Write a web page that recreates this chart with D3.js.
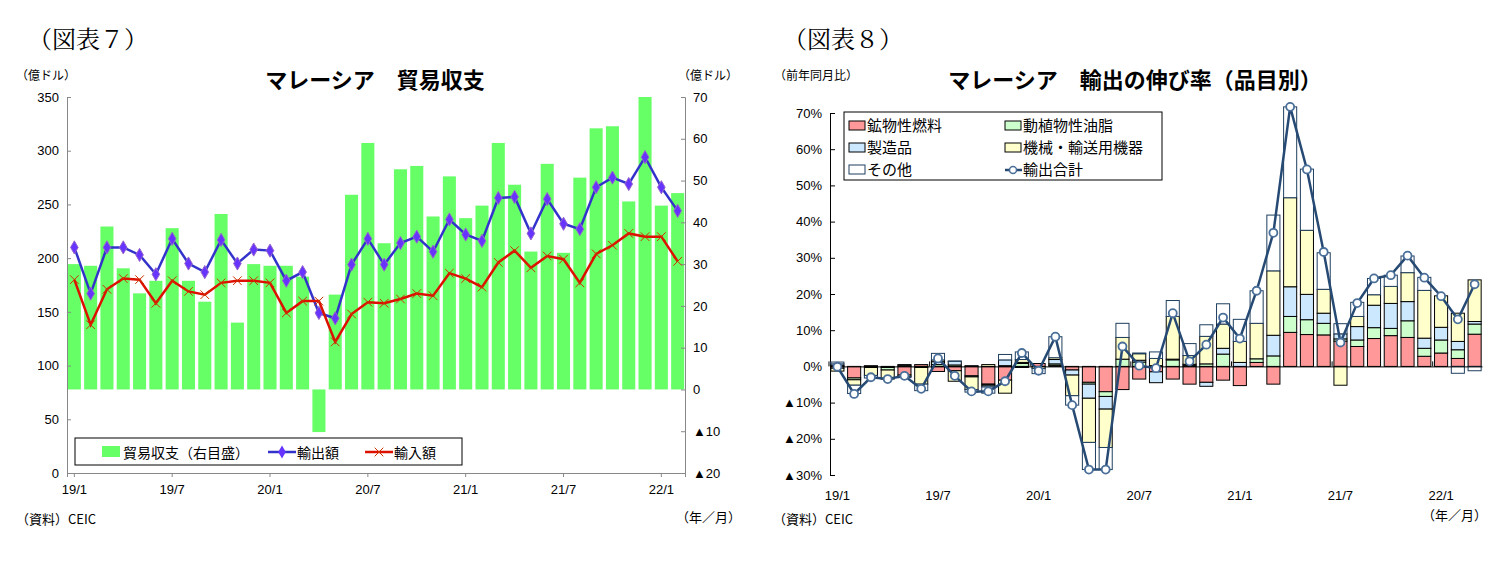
<!DOCTYPE html>
<html><head><meta charset="utf-8">
<script src="https://cdn.jsdelivr.net/npm/d3@7"></script>
<style>body{margin:0;background:#fff}text{font-family:"Noto Sans CJK JP",sans-serif}</style>
</head><body><svg id="c" width="1511" height="569"></svg>
<script>
// ---- Chart 7 data ----
const months7 = d3.range(38);
const xLabels7 = ["19/1","19/7","20/1","20/7","21/1","21/7","22/1"];
const balance = [30,29.6,39,29,23,26,38.6,26,21,42,16,30,29.6,29.6,27,-10.2,22.7,46.6,59,35,52.7,53.5,41.4,51,41,44,59,49,33,54,32.7,50.7,62.5,63,45,70,44,47];
const exportsV = [210,167,210,210,203,185,218,195,187,217,195,208,207,179,187,149,144,194,218,194,214,220,206,236,222,216,256,257,223,255,232,227,266,275,269,294,266,244];
const importsV = [180,138,171,181,180,158,179,169,166,177,179,179,177,149,160,160,122,148,159,158,162,167,165,186,181,173,196,207,191,202,199,177,204,212,223,220,220,197];
const leftTicks = [0,50,100,150,200,250,300,350];
const rightTicks = [70,60,50,40,30,20,10,0,-10,-20];
// ---- Chart 8 data ----
const months8 = d3.range(39);
const xLabels8 = ["19/1","19/7","20/1","20/7","21/1","21/7","22/1"];
const fuel  = [-0.5,-3.2,-0.3,-0.3,-2.4,0.5,-1.4,-1.2,-2.6,-4.9,-3.8,-0.3,0.8,0.3,-1,-4.4,-7,-6.4,-3.5,-1.5,-3.5,-4.9,-4.4,-3.8,-5.3,1.1,-4.9,9.4,8.8,8.7,7.0,5.5,7.7,8.5,8.0,2.8,3.7,2.2,8.9];
const oils  = [0.2,-0.5,0.2,-0.7,0.3,0,0.5,0.4,-0.3,-0.3,0.2,0.8,0,0.4,0,-0.5,-1.3,2,1.2,0.2,1.8,0.3,0.7,3.4,0,1.0,2.9,4.4,4.1,3.2,0.6,1.8,3.0,2.0,4.6,2.2,3.6,2.4,2.8];
const manuf = [0.5,0,0,0,0.2,-0.3,0.8,1.0,0.2,-0.5,1.6,0.3,0,1.2,-1.4,-3.9,-3.5,0,0.5,-3,0.2,0.3,-1.1,1.6,1.1,0,5.7,8.2,7.0,2.8,1.4,3.7,6.2,6.9,5.3,2.8,3.5,2.3,0.7];
const mach  = [-0.8,-1.5,-2.2,-2.5,-0.4,-4.6,0.5,-2.9,-3.5,0.5,-3.6,0.8,-0.6,0.5,-5.7,-12.2,-10.6,6,1.8,2,11.8,2.4,7.6,6.7,5.8,9.8,17.8,24.6,17.7,6.6,-5.2,2.8,2.9,4.7,8.0,13.2,8.7,7.8,11.5];
const other = [0.5,-2.3,-0.7,0,-0.3,-1.8,1.8,0.1,-0.7,-1.7,1.5,2.1,-1.4,5.8,-2.6,-7.5,-6.1,3.9,0.2,1.8,4.4,3.3,3.2,5.6,6.1,9.0,15.4,25.1,16.9,10.1,2.8,3.9,4.5,3.1,4.6,3.6,0,-1.9,-1.2];
const total = [-0.1,-7.6,-3,-3.5,-2.6,-6.2,2.2,-2.6,-6.9,-6.9,-4.1,3.7,-1.2,8.2,-10.7,-28.5,-28.5,5.5,0.2,-0.5,14.7,1.4,6,13.5,7.7,20.9,36.9,71.7,54.4,31.6,6.6,17.5,24.3,25.2,30.6,24.5,19.4,13,22.7];
const pctTicks = [70,60,50,40,30,20,10,0,-10,-20,-30];
const seriesNames = ["鉱物性燃料","動植物性油脂","製造品","機械・輸送用機器","その他"];
const seriesColors = ["#ff9999","#ccffcc","#cce8ff","#ffffcc","#ffffff"];

const svg = d3.select("#c");
const neg = v => v < 0 ? "▲" + Math.abs(v) : "" + v;

// ===== Chart 7 =====
{
  const x = d3.scaleBand().domain(months7).range([67,685]).paddingInner(0.2).paddingOuter(0.05);
  const yL = d3.scaleLinear().domain([0,350]).range([473,97]);
  const yR = d3.scaleLinear().domain([-20,70]).range([473,97]);
  svg.append("text").attr("x",28).attr("y",48).attr("font-size",24).style("font-family","'Noto Serif CJK JP',serif").text("（図表７）");
  svg.append("text").attr("x",375).attr("y",88).attr("text-anchor","middle").attr("font-size",22).attr("font-weight",600).text("マレーシア　貿易収支");
  svg.append("text").attr("x",16).attr("y",80).attr("font-size",12).text("（億ドル）");
  svg.append("text").attr("x",678).attr("y",80).attr("font-size",12).text("（億ドル）");
  svg.append("g").selectAll("rect").data(balance).join("rect")
    .attr("x",(d,i)=>x(i)).attr("width",x.bandwidth())
    .attr("y",d=>yR(Math.max(0,d))).attr("height",d=>Math.abs(yR(d)-yR(0))).attr("fill","#66ff66");
  const gl = svg.append("g").attr("transform","translate(67,0)").call(d3.axisLeft(yL).tickValues(leftTicks).tickSize(-4).tickPadding(8));
  const gr = svg.append("g").attr("transform","translate(685,0)").call(d3.axisRight(yR).tickValues(rightTicks).tickFormat(neg).tickSize(-4).tickPadding(8));
  const gx = svg.append("g").attr("transform","translate(0,473)").call(d3.axisBottom(x).tickValues([0,6,12,18,24,30,36]).tickFormat((d,i)=>xLabels7[i]).tickSize(4).tickPadding(8));
  [gl,gr,gx].forEach(g=>{g.selectAll("text").attr("font-size",13).attr("fill","#000").style("font-family","'Liberation Sans',sans-serif");g.selectAll("path,line").attr("stroke","#888");});
  const lineF = () => d3.line().x((d,i)=>x(i)+x.bandwidth()/2).y(d=>yL(d));
  svg.append("path").datum(exportsV).attr("d",lineF()).attr("fill","none").attr("stroke","#3333cc").attr("stroke-width",2.5);
  svg.append("g").selectAll("path").data(exportsV).join("path")
    .attr("d",d3.symbol(d3.symbolDiamond,50)).attr("fill","#6633ff").attr("stroke","#9966cc")
    .attr("transform",(d,i)=>`translate(${x(i)+x.bandwidth()/2},${yL(d)})`);
  svg.append("path").datum(importsV).attr("d",lineF()).attr("fill","none").attr("stroke","#dd1100").attr("stroke-width",2.5);
  svg.append("g").selectAll("path").data(importsV).join("path")
    .attr("d",d3.symbol(d3.symbolX,50)).attr("fill","none").attr("stroke","#cc3300").attr("stroke-width",1)
    .attr("transform",(d,i)=>`translate(${x(i)+x.bandwidth()/2},${yL(d)})`);
  const lg = svg.append("g");
  lg.append("rect").attr("x",75).attr("y",438).attr("width",387).attr("height",27).attr("fill","#fff").attr("stroke","#000");
  lg.append("rect").attr("x",102).attr("y",446).attr("width",18).attr("height",11).attr("fill","#66ff66");
  lg.append("text").attr("x",123).attr("y",458).attr("font-size",14).text("貿易収支（右目盛）");
  lg.append("line").attr("x1",268).attr("x2",296).attr("y1",452).attr("y2",452).attr("stroke","#3333cc").attr("stroke-width",2.5);
  lg.append("path").attr("d",d3.symbol(d3.symbolDiamond,50)).attr("transform","translate(282,452)").attr("fill","#6633ff");
  lg.append("text").attr("x",297).attr("y",458).attr("font-size",14).text("輸出額");
  lg.append("line").attr("x1",365).attr("x2",393).attr("y1",452).attr("y2",452).attr("stroke","#dd1100").attr("stroke-width",2.5);
  lg.append("path").attr("d",d3.symbol(d3.symbolX,50)).attr("transform","translate(379,452)").attr("fill","none").attr("stroke","#cc3300");
  lg.append("text").attr("x",394).attr("y",458).attr("font-size",14).text("輸入額");
  svg.append("text").attr("x",16).attr("y",524).attr("font-size",13).text("（資料）CEIC");
  svg.append("text").attr("x",676).attr("y",522).attr("font-size",13).text("（年／月）");
}

// ===== Chart 8 =====
{
  const x = d3.scaleBand().domain(months8).range([830,1482]).paddingInner(0.22).paddingOuter(0.05);
  const y = d3.scaleLinear().domain([-30,70]).range([475,113]);
  svg.append("text").attr("x",783).attr("y",48).attr("font-size",24).style("font-family","'Noto Serif CJK JP',serif").text("（図表８）");
  svg.append("text").attr("x",1135).attr("y",88).attr("text-anchor","middle").attr("font-size",22).attr("font-weight",600).text("マレーシア　輸出の伸び率（品目別）");
  svg.append("text").attr("x",774).attr("y",80).attr("font-size",12).text("（前年同月比）");
  const gy = svg.append("g").attr("transform","translate(830,0)").call(d3.axisLeft(y).tickValues(pctTicks).tickFormat(v=>neg(v)+"%").tickSize(-5).tickPadding(8));
  gy.selectAll("text").attr("font-size",13).attr("fill","#000").style("font-family","'Liberation Sans',sans-serif");
  gy.selectAll("path,line").attr("stroke","#000");
  const rows = months8.map(i=>({fuel:fuel[i],oils:oils[i],manuf:manuf[i],mach:mach[i],other:other[i]}));
  const keys = ["fuel","oils","manuf","mach","other"];
  const st = d3.stack().keys(keys).offset(d3.stackOffsetDiverging)(rows);
  st.forEach((s,k)=>{
    svg.append("g").selectAll("rect").data(s).join("rect")
      .attr("x",(d,i)=>x(i)).attr("width",x.bandwidth())
      .attr("y",d=>y(Math.max(d[0],d[1]))).attr("height",d=>Math.abs(y(d[0])-y(d[1])))
      .attr("fill",seriesColors[k]).attr("stroke",k===4?"#1f3f5f":"#000").attr("stroke-width",1);
  });
  const gx = svg.append("g").attr("transform",`translate(0,${y(0)})`).call(d3.axisBottom(x).tickValues([]).tickSizeOuter(0));
  gx.select("path").attr("stroke","#000");
  svg.append("g").selectAll("line").data([0,6,12,18,24,30,36]).join("line")
    .attr("x1",d=>x(d)-x.step()*0.11).attr("x2",d=>x(d)-x.step()*0.11).attr("y1",y(0)-5).attr("y2",y(0)).attr("stroke","#000");
  svg.append("g").selectAll("text").data([0,6,12,18,24,30,36]).join("text")
    .attr("x",d=>x(d)+x.bandwidth()/2).attr("y",500).attr("text-anchor","middle").attr("font-size",13)
    .style("font-family","'Liberation Sans',sans-serif").text((d,i)=>xLabels8[i]);
  const cx = i=>x(i)+x.bandwidth()/2;
  svg.append("path").datum(total).attr("d",d3.line().x((d,i)=>cx(i)).y(d=>y(d))).attr("fill","none").attr("stroke","#264a73").attr("stroke-width",2.5);
  svg.append("g").selectAll("circle").data(total).join("circle")
    .attr("cx",(d,i)=>cx(i)).attr("cy",d=>y(d)).attr("r",4).attr("fill","#fff").attr("stroke","#4a6f99").attr("stroke-width",1.8);
  const lg = svg.append("g");
  lg.append("rect").attr("x",844).attr("y",112).attr("width",318).attr("height",68).attr("fill","#fff").attr("stroke","#000");
  const pos = [[849,131],[1005,131],[849,153],[1005,153],[849,175]];
  seriesNames.forEach((n,k)=>{
    lg.append("rect").attr("x",pos[k][0]).attr("y",pos[k][1]-10).attr("width",16).attr("height",9)
      .attr("fill",seriesColors[k]).attr("stroke",k===4?"#1f3f5f":"#000");
    lg.append("text").attr("x",pos[k][0]+18).attr("y",pos[k][1]).attr("font-size",15).text(n);
  });
  lg.append("line").attr("x1",1005).attr("x2",1022).attr("y1",170).attr("y2",170).attr("stroke","#264a73").attr("stroke-width",2.5);
  lg.append("circle").attr("cx",1013).attr("cy",170).attr("r",3.5).attr("fill","#fff").attr("stroke","#4a6f99").attr("stroke-width",1.5);
  lg.append("text").attr("x",1023).attr("y",175).attr("font-size",15).text("輸出合計");
  svg.append("text").attr("x",773).attr("y",524).attr("font-size",13).text("（資料）CEIC");
  svg.append("text").attr("x",1422).attr("y",520).attr("font-size",13).text("（年／月）");
}
</script></body></html>
